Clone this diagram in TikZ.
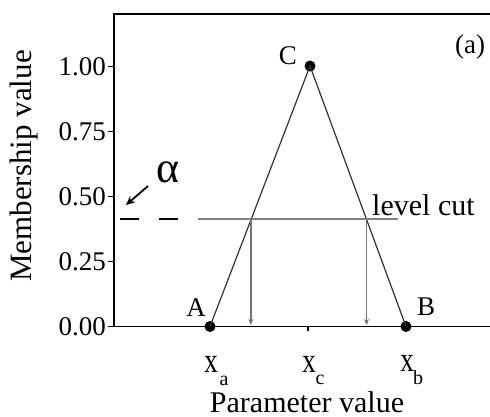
\documentclass[tikz,border=0pt]{standalone}
\usepackage{fontspec}
\setmainfont{Liberation Serif}
\usetikzlibrary{arrows.meta}
\begin{document}
\begin{tikzpicture}[x=1pt,y=-1pt,
  axis/.style={line width=1.8pt,black},
  tri/.style={line width=1.2pt,black!80},
  cut/.style={line width=1.8pt,black!50},
  drop/.style={line width=1.6pt,black!55,-{Stealth[length=6pt,width=5pt]}},
  pt/.style={circle,fill=black,inner sep=0pt,minimum size=11pt},
  ticklab/.style={anchor=east,font=\fontsize{27}{27}\selectfont,inner sep=0pt},
  lab/.style={font=\fontsize{27}{27}\selectfont,inner sep=0pt},
  big/.style={font=\fontsize{30}{30}\selectfont,inner sep=0pt},
  sub/.style={font=\fontsize{20}{20}\selectfont,inner sep=0pt}]
\useasboundingbox (0,0) rectangle (490,417);
% axes
\coordinate (TL) at (114,14);
\coordinate (TR) at (490,14);
\coordinate (BL) at (114,326.5);
\coordinate (BR) at (490,326.5);
\draw[axis] (TR) -- (TL) -- (BL) -- (BR);
% y ticks
\foreach \v/\y in {1.00/66.5,0.75/131.5,0.50/196.5,0.25/261.5,0.00/326.5}{
  \draw[line width=1.4pt] (108,\y) -- (114,\y);
  \node[ticklab] at (106,\y) {\v};
}
\draw[line width=1.2pt] (308,326.5) -- (308,331);
% points
\node[pt] (A) at (210,326.5) {};
\node[pt] (C) at (310,66) {};
\node[pt] (B) at (406,326.5) {};
\draw[tri] (A.center) -- (C.center) -- (B.center);
% level cut
\coordinate (L0) at (120,219);
\coordinate (L1) at (180,219);
\coordinate (L2) at (198,219);
\coordinate (L3) at (398,219);
\coordinate (P1) at (250.8,219);
\coordinate (P2) at (366.6,219);
\coordinate (Q1) at (250.8,325);
\coordinate (Q2) at (366.6,325);
\draw[line width=1.6pt,dash pattern=on 19pt off 20pt] (L0) -- (L1);
\draw[cut] (L2) -- (L3);
\draw[drop] (P1) -- (Q1);
\draw[drop] (P2) -- (Q2);
% alpha
\node[font=\fontsize{44}{44}\selectfont,inner sep=0pt] (al) at (168,172) {α};
\coordinate (a0) at (148,186);
\coordinate (a1) at (126,205);
\draw[line width=1.8pt,-{Stealth[length=9pt,width=8pt]}] (a0) -- (a1);
% labels
\node[big,anchor=base west] (lc) at (372,215) {level cut};
\node[lab] (lA) at (196,308) {A};
\node[lab] (lB) at (426,307) {B};
\node[lab] (lC) at (288,56) {C};
\node[lab] (la) at (470,47) {(a)};
\node[big,anchor=base] (px) at (307,412) {Parameter value};
\node[font=\fontsize{31}{31}\selectfont,inner sep=0pt,rotate=90] (my) at (24,166) {Membership value};
\node[lab] (xa) at (211,364) {\scalebox{1}[1.3]{x}};
\node[sub] (xas) at (224,381) {a};
\node[lab] (xc) at (309,364) {\scalebox{1}[1.3]{x}};
\node[sub] (xcs) at (320,380) {c};
\node[lab] (xb) at (407,363) {\scalebox{1}[1.3]{x}};
\node[sub] (xbs) at (418,378) {b};
\end{tikzpicture}
\end{document}
